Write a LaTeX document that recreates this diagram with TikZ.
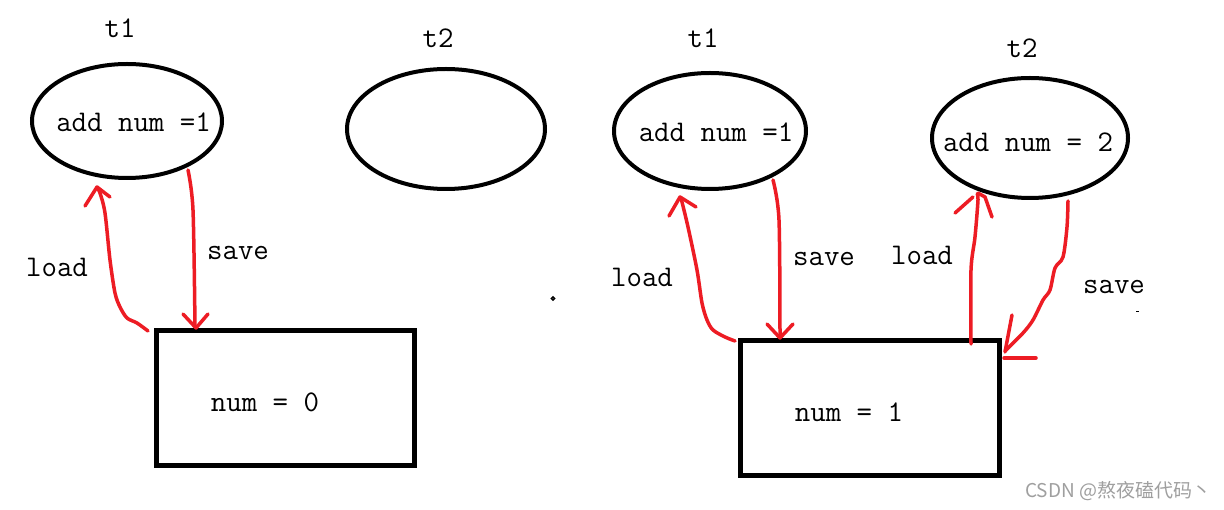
\documentclass[tikz,border=0pt]{standalone}
\usepackage{fontspec}
\usetikzlibrary{shapes.geometric}
\newfontfamily\cjk{Noto Sans CJK SC}
\definecolor{paintred}{HTML}{ED1C24}
\definecolor{wmgray}{HTML}{9F9F9F}
\begin{document}
\begin{tikzpicture}[x=1pt,y=-1pt,
  oval/.style={ellipse, draw, line width=4pt, inner sep=0pt},
  box/.style={rectangle, draw, line width=5pt, inner sep=0pt},
  txt/.style={anchor=base, inner sep=0pt, font=\fontsize{30}{36}\selectfont\ttfamily},
  stroke/.style={draw=paintred, line width=3.5pt, line cap=round, line join=round}]
\fill[white] (0,0) rectangle (1224,510);
\useasboundingbox (0,0) rectangle (1224,510);

% left scene
\node[oval, minimum width=190pt, minimum height=114pt] (e1) at (127,121) {};
\node[oval, minimum width=198pt, minimum height=120pt] (e2) at (446,129) {};
\node[box, minimum width=258pt, minimum height=135pt] (b1) at (285.5,398) {};
\node[txt] (l1) at (120,38) {t1};
\node[txt] (l2) at (438,48) {t2};
\node[txt] (a1) at (133.5,132) {add num =1};
\node[txt] (ld1) at (57,277) {load};
\node[txt] (sv1) at (238,260) {save};
\node[txt] (n0) at (265,412) {num = 0};

\draw[stroke] plot[smooth, tension=0.5] coordinates {(148,331) (137,323) (127,318) (120,307) (115,293) (110,260) (105,213) (100,193) (97,188)};
\draw[stroke] (85,206) -- (97,187) -- (110,197);
\draw[stroke] plot[smooth, tension=0.5] coordinates {(188,170) (193,210) (195,327)};
\draw[stroke] (183,314) -- (196,328) -- (208,314);

% stray dot
\draw[line width=1.3pt] (553,298.5) circle[radius=1.6];

% right scene
\node[oval, minimum width=192pt, minimum height=116pt] (e3) at (710,131) {};
\node[oval, minimum width=196pt, minimum height=120pt] (e4) at (1030,138) {};
\node[box, minimum width=259pt, minimum height=135pt] (b2) at (870,408) {};
\node[txt] (l3) at (703,48) {t1};
\node[txt] (l4) at (1022,58) {t2};
\node[txt] (a3) at (716,142) {add num =1};
\node[txt] (a4) at (1028,152) {add num = 2};
\node[txt] (ld3) at (642,287) {load};
\node[txt] (sv3) at (824,266) {save};
\node[txt] (ld4) at (922,265) {load};
\node[txt] (sv4) at (1114,294) {save};
\node[txt] (n1) at (849,422) {num = 1};

\draw[stroke] plot[smooth, tension=0.5] coordinates {(735,341) (725,337) (713,330) (707,320) (702,303) (697,270) (688,227) (681,198)};
\draw[stroke] (669,216) -- (680,197) -- (696,207);
\draw[stroke] plot[smooth, tension=0.5] coordinates {(773,180) (779,220) (780,337)};
\draw[stroke] (767,324) -- (780,338) -- (793,324);

\draw[stroke] plot[smooth, tension=0.5] coordinates {(971,344) (971,270) (975,237) (978,200) (977,194)};
\draw[stroke] (955,213) -- (973,197);
\draw[stroke] (992,217) -- (985,197) -- (978,193);
\draw[stroke] plot[smooth, tension=0.5] coordinates {(1068,201) (1067,227) (1063,257) (1055,268) (1050,290) (1043,300) (1033,320) (1023,333) (1005,351)};
\draw[stroke] (1012,315) -- (1005,352);
\draw[stroke] (1004,358) -- (1036,358);

% stray mark
\draw[line width=1pt] (1136,312) -- (1139,312);

% watermark
\node[anchor=base west, inner sep=0pt, text=wmgray, font=\fontsize{19}{22}\selectfont\cjk] (wm) at (1025,497) {CSDN @熬夜磕代码丶};
\end{tikzpicture}
\end{document}
